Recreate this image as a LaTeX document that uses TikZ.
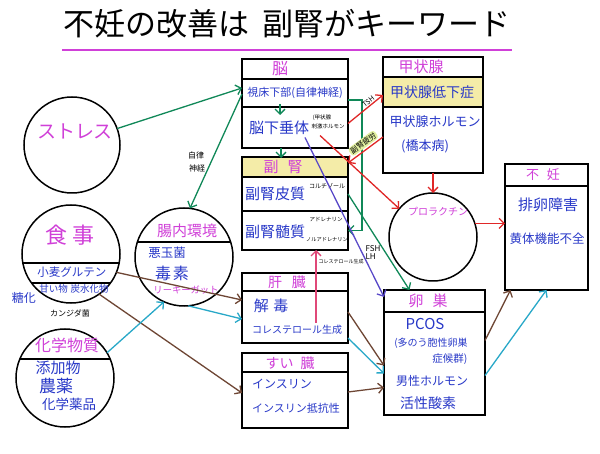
\documentclass[tikz,border=0pt]{standalone}
\usepackage{fontspec}
\setmainfont{Noto Sans CJK JP}
\usetikzlibrary{arrows.meta,calc}
\definecolor{mag}{HTML}{D040D8}
\definecolor{blu}{HTML}{2838C8}
\definecolor{grn}{HTML}{108858}
\definecolor{redA}{HTML}{E02828}
\definecolor{pur}{HTML}{5848C8}
\definecolor{brn}{HTML}{6E4634}
\definecolor{cyn}{HTML}{28A8C8}
\definecolor{hil}{HTML}{F4ECA8}
\definecolor{hilg}{HTML}{E2F0A0}
\definecolor{pnk}{HTML}{E04878}
\tikzset{
 rowbox/.style={draw, line width=1.5pt, anchor=north west, inner sep=0pt, outer sep=0pt},
 circ/.style={circle, draw, line width=1.5pt, inner sep=0pt, outer sep=0pt},
 fs/.style={font=\fontsize{#1pt}{#1pt}\selectfont},
 hdr/.style={text=mag, inner sep=0pt},
 bl/.style={text=blu, inner sep=0pt},
 sm/.style={text=black, inner sep=0pt},
 conn/.style={line width=1.3pt, -{Straight Barb[length=5pt,width=10pt,line width=1.3pt]}},
 garrow/.style={conn, draw=grn},
 rarrow/.style={conn, draw=redA},
 parrow/.style={conn, draw=pur},
 barrow/.style={conn, draw=brn},
 carrow/.style={conn, draw=cyn},
 karrow/.style={conn, draw=pnk},
}
\begin{document}
\begin{tikzpicture}[x=1pt,y=-1pt]
\fill[white] (0,0) rectangle (600,454);
\useasboundingbox (0,0) rectangle (600,454);

% title
\node[fs=31, inner sep=0pt] (title) at (287,24) {不妊の改善は\hspace{0.4em}副腎がキーワード};
\draw[mag, line width=2pt] (62,50) -- (512,50);

% boxes
\node[rowbox, minimum width=106pt, minimum height=20pt] (noH) at (242,59) {};
\node[rowbox, minimum width=106pt, minimum height=28pt] (noR2) at (242,79) {};
\node[rowbox, minimum width=106pt, minimum height=41pt] (noR3) at (242,107) {};

\node[rowbox, minimum width=100pt, minimum height=20pt] (kjH) at (383,57) {};
\node[rowbox, fill=hil, minimum width=100pt, minimum height=30pt] (kjR2) at (383,77) {};
\node[rowbox, minimum width=100pt, minimum height=66pt] (kjR3) at (383,107) {};

\node[rowbox, fill=hil, minimum width=106pt, minimum height=20pt] (fuH) at (242,157) {};
\node[rowbox, minimum width=106pt, minimum height=34pt] (fuR2) at (242,177) {};
\node[rowbox, minimum width=106pt, minimum height=39pt] (fuR3) at (242,211) {};

\node[rowbox, minimum width=106pt, minimum height=18pt] (kaH) at (242,273) {};
\node[rowbox, minimum width=106pt, minimum height=52pt] (kaR2) at (242,291) {};

\node[rowbox, minimum width=106pt, minimum height=19pt] (suH) at (242,353) {};
\node[rowbox, minimum width=106pt, minimum height=56pt] (suR2) at (242,372) {};

\node[rowbox, minimum width=101pt, minimum height=22pt] (ranH) at (384,290) {};
\node[rowbox, minimum width=101pt, minimum height=103pt] (ranR2) at (384,312) {};

\node[rowbox, minimum width=83pt, minimum height=22pt] (fiH) at (505,164) {};
\node[rowbox, minimum width=83pt, minimum height=104pt] (fiR2) at (505,186) {};

% circles
\node[circ, minimum size=96pt] (stress) at (72,145) {};
\node[circ, minimum size=98pt] (meal) at (71,254) {};
\node[circ, minimum size=98pt] (gut) at (184,257) {};
\node[circ, minimum size=98pt] (chem) at (65,378) {};
\node[circ, minimum size=88pt] (prl) at (433,237) {};
\draw[line width=1.5pt] ($(meal.center)+(-48.2,9)$) -- ($(meal.center)+(48.2,9)$);
\draw[line width=1.5pt] ($(meal.center)+(-39.5,29)$) -- ($(meal.center)+(39.5,29)$);
\draw[line width=1.5pt] ($(gut.center)+(-46.6,-15)$) -- ($(gut.center)+(46.6,-15)$);
\draw[line width=1.5pt] ($(chem.center)+(-45.2,-19)$) -- ($(chem.center)+(45.2,-19)$);

% box texts
\node[hdr, fs=16] (tNo) at (280,69) {脳};
\node[bl, fs=11] (tHyp) at (295,93) {視床下部(自律神経)};
\node[bl, fs=15] (tPit) at (279,128) {脳下垂体};
\node[sm, fs=5.5] (tPitA) at (322,118) {(甲状腺};
\node[sm, fs=5.5] (tPitB) at (328,126) {刺激ホルモン};

\node[hdr, fs=15] (tKj) at (421,67) {甲状腺};
\node[bl, fs=14] (tKj2) at (432,92) {甲状腺低下症};
\node[bl, fs=13] (tKj3a) at (435,122) {甲状腺ホルモン};
\node[bl, fs=13] (tKj3b) at (425,146) {(橋本病)};

\node[hdr, fs=15] (tFu) at (283,167) {副\hspace{0.6em}腎};
\node[bl, fs=15] (tFu2) at (275,194) {副腎皮質};
\node[sm, fs=6] (tCort) at (327,186) {コルチゾール};
\node[bl, fs=15] (tFu3) at (275,232) {副腎髄質};
\node[sm, fs=5.5] (tAdr) at (326,219) {アドレナリン};
\node[sm, fs=5.2] (tNor) at (327,240) {ノルアドレナリン};

\node[hdr, fs=14] (tKa) at (287,282) {肝\hspace{0.7em}臓};
\node[bl, fs=15] (tKa2) at (271,306) {解\hspace{0.3em}毒};
\node[bl, fs=10] (tKa3) at (297,330) {コレステロール生成};

\node[hdr, fs=14] (tSu) at (290,363) {すい\hspace{0.5em}臓};
\node[bl, fs=12] (tSu2) at (282,384) {インスリン};
\node[bl, fs=11] (tSu3) at (296,408) {インスリン抵抗性};

\node[hdr, fs=15] (tRan) at (428,301) {卵\hspace{0.6em}巣};
\node[bl, fs=15] (tPcos) at (425,324) {PCOS};
\node[bl, fs=10] (tP2) at (431,343) {(多のう胞性卵巣};
\node[bl, fs=10.5] (tP3) at (450,359) {症候群)};
\node[bl, fs=12] (tP4) at (432,381) {男性ホルモン};
\node[bl, fs=14] (tP5) at (428,403) {活性酸素};

\node[hdr, fs=13] (tFi) at (543,175) {不\hspace{0.6em}妊};
\node[bl, fs=15] (tFi2) at (548,205) {排卵障害};
\node[bl, fs=12.5] (tFi3) at (547,239) {黄体機能不全};

\node[hdr, fs=10] (tPrl) at (438,212) {プロラクチン};

% circle texts
\node[hdr, fs=19] (tStress) at (75,131) {ストレス};
\node[hdr, fs=22] (tMeal) at (70,235) {食\hspace{0.2em}事};
\node[bl, fs=11.5] (tGlu) at (72,272) {小麦グルテン};
\node[bl, fs=9.5] (tSweet) at (74,289) {甘い物\hspace{0.3em}炭水化物};
\node[bl, fs=12] (tTouka) at (24,298) {糖化};
\node[sm, fs=8] (tCand) at (70,313) {カンジダ菌};
\node[hdr, fs=15] (tGut) at (187,231) {腸内環境};
\node[bl, fs=12.5] (tBad) at (167,253) {悪玉菌};
\node[bl, fs=16] (tTox) at (172,273) {毒\hspace{0.1em}素};
\node[hdr, fs=9.3] (tLeaky) at (186,290) {リーキーガット};
\node[hdr, fs=16] (tChem) at (67,345) {化学物質};
\node[bl, fs=15] (tAdd) at (58,368) {添加物};
\node[bl, fs=17] (tPest) at (56,386) {農薬};
\node[bl, fs=13.5] (tDrug) at (69,404) {化学薬品};

% connectors
\draw[garrow] (stress.20) -- ([yshift=5pt]noR2.west);
\draw[garrow] ([yshift=-1pt]noR2.west) -- (gut.83);
\node[sm, fs=8] (tAutoA) at (196,155) {自律};
\node[sm, fs=8] (tAutoB) at (197,168) {神経};
\draw[garrow] ([xshift=-15pt,yshift=3pt]noR2.south) -- ([xshift=-15pt,yshift=-8pt]noR3.north);
\draw[garrow] ([xshift=-14pt]noR3.south) -- ([xshift=-14pt,yshift=-1pt]fuH.north);
\draw[garrow] ([yshift=-7pt]noR2.east) -| ([xshift=14pt]fuR3.east) -- (fuR3.east);

\draw[rarrow] ([yshift=4pt]noR3.east) -- node[pos=0.66, sloped, above=1pt, sm, fs=7] (tTSH) {TSH} ([yshift=-3pt]kjR2.west);
\draw[rarrow, {Straight Barb[length=5pt,width=10pt,line width=1.3pt]}-] ([yshift=4pt]fuH.east) -- node[pos=0.55, sloped, above=1.5pt, sm, fs=7.5, fill=hilg, rounded corners=3pt, inner sep=1.2pt] (tFatigue) {副腎疲労} ([yshift=3pt]kjR3.west);
\draw[rarrow] ([xshift=25pt,yshift=-8pt]noR3.center) -- (prl.140);
\draw[rarrow] (kjR3.south) -- (prl.north);
\draw[rarrow] (prl.18) -- (prl.18 -| fiR2.west);

\draw[parrow] ([xshift=10pt,yshift=-10pt]noR3.center) -- node[pos=0.72, right=3pt, sm, fs=8, align=left] (tFSH) {FSH\\LH} ([yshift=4pt]ranH.west);
\draw[garrow] (fuR2.east) -- ([xshift=-25pt]ranH.north);
\draw[karrow] ([xshift=21pt,yshift=-6pt]kaR2.center) -- ([xshift=21pt]fuR3.south);
\node[sm, fs=5] (tChol) at (341,262) {コレステロール生成};

\draw[barrow] (meal.-22) -- ([yshift=17pt]kaR2.west);
\draw[barrow] (meal.-55) -- ([yshift=7pt]suR2.west);
\draw[carrow] (chem.31) -- (gut.246);
\draw[carrow] (gut.275) -- ([yshift=-2pt]kaR2.west);
\draw[barrow] ([yshift=5pt]kaR2.east) -- ([yshift=-2pt]ranR2.west);
\draw[carrow] ([yshift=-21pt]kaR2.east) -- ([yshift=-10pt]ranR2.west);
\draw[barrow] ([yshift=8pt]suR2.east) -- ([yshift=-24pt]ranR2.west);
\draw[barrow] ([yshift=23pt]ranR2.east) -- ([xshift=-36pt]fiR2.south);
\draw[carrow] ([yshift=-12pt]ranR2.east) -- (fiR2.south);
\end{tikzpicture}
\end{document}
